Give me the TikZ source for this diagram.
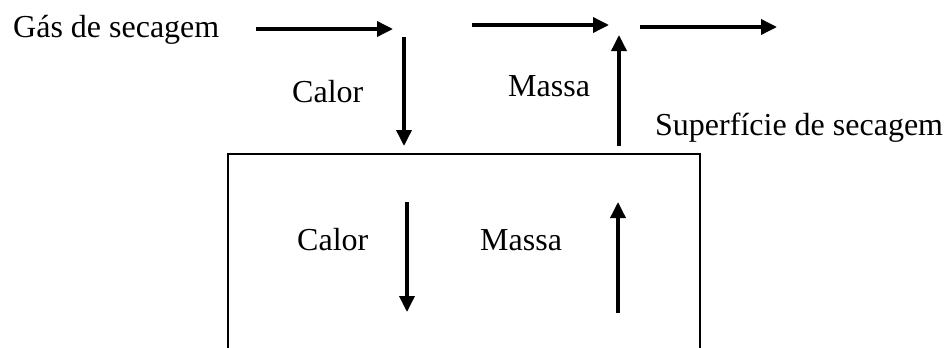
\documentclass[tikz,border=0pt]{standalone}
\usepackage{fontspec}
\setmainfont{Liberation Serif}
\usetikzlibrary{arrows.meta}
\begin{document}
\begin{tikzpicture}[x=1pt,y=-1pt,
  lbl/.style={anchor=base west,inner sep=0pt,font=\fontsize{32}{38}\selectfont},
  flow/.style={line width=3.5pt,-{Triangle[length=16pt,width=15pt]}},
  wall/.style={line width=2pt}]
\useasboundingbox (0,0) rectangle (946,348);
% labels
\node[lbl] (gas) at (13,37) {Gás de secagem};
\node[lbl] (calorA) at (292,102) {Calor};
\node[lbl] (massaA) at (508,96) {Massa};
\node[lbl] (sup) at (655,135) {Superfície de secagem};
\node[lbl] (calorB) at (297,250) {Calor};
\node[lbl] (massaB) at (480,250) {Massa};
% arrow end points
\coordinate (g1s) at (256,29);  \coordinate (g1e) at (393,29);
\coordinate (g2s) at (472,25);  \coordinate (g2e) at (609,25);
\coordinate (g3s) at (640,27);  \coordinate (g3e) at (777,27);
\coordinate (q1s) at (404,37);  \coordinate (q1e) at (404,146);
\coordinate (m1s) at (619,146); \coordinate (m1e) at (619,35);
\coordinate (q2s) at (407,202); \coordinate (q2e) at (407,312);
\coordinate (m2s) at (618,313); \coordinate (m2e) at (618,202);
% solid body, open at the bottom
\draw[wall] (228,348) -- (228,154) -- (700,154) -- (700,348);
% gas stream
\draw[flow] (g1s) -- (g1e);
\draw[flow] (g2s) -- (g2e);
\draw[flow] (g3s) -- (g3e);
% heat and mass transfer
\draw[flow] (q1s) -- (q1e);
\draw[flow] (m1s) -- (m1e);
\draw[flow] (q2s) -- (q2e);
\draw[flow] (m2s) -- (m2e);
\end{tikzpicture}
\end{document}
